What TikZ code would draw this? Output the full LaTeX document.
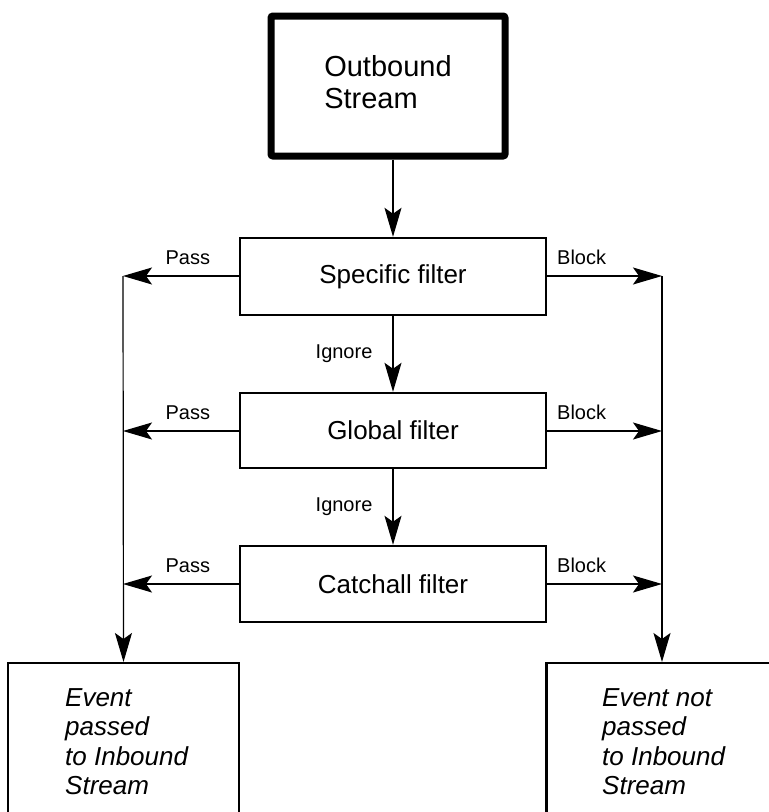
\documentclass[tikz,border=0pt]{standalone}
\usepackage{fontspec}
\setmainfont{Liberation Sans}
\usetikzlibrary{arrows.meta}
\begin{document}
\begin{tikzpicture}[x=1pt,y=-1pt,
  streambox/.style={draw, line width=7pt, rounded corners=2pt, minimum width=234pt,
    minimum height=140pt, inner sep=0pt, align=left, font=\fontsize{29}{32}\selectfont},
  filterbox/.style={draw, line width=2.4pt, minimum width=306pt, inner sep=0pt,
    font=\fontsize{26}{30}\selectfont},
  resultbox/.style={draw, line width=2.4pt, minimum width=231pt, minimum height=300pt,
    anchor=north, inner sep=0pt},
  resulttext/.style={anchor=north west, inner sep=0pt, align=left,
    font=\fontsize{26}{29.3}\selectfont\itshape},
  flow/.style={line width=1.2pt, -{Stealth[length=29pt,width=17pt,inset=6pt]}},
  tag/.style={font=\fontsize{20}{24}\selectfont, inner sep=0pt}
]
\useasboundingbox (0,0) rectangle (769,812);
\clip (0,0) rectangle (769,812);

% source stream
\node[streambox, text depth=9pt] (out) at (388,86) {Outbound\\Stream};

% filter chain
\node[filterbox, minimum height=77pt] (spec) at (393,276.5) {Specific filter};
\node[filterbox, minimum height=75pt] (glob) at (393,430.5) {Global filter};
\node[filterbox, minimum height=76pt] (catch) at (393,584) {Catchall filter};

% outcome boxes (open towards the bottom)
\node[resultbox] (passed) at (123.5,662) {};
\node[resultbox] (blocked) at (662,662) {};
\node[resulttext] (passedtxt) at (65,688.4) {Event\\passed\\to Inbound\\Stream};
\node[resulttext] (blockedtxt) at (602,688.4) {Event not\\passed\\to Inbound\\Stream};

% junction points on the collector lines
\coordinate (p1) at (123,276);
\coordinate (p2) at (123,431);
\coordinate (p3) at (123,584);
\coordinate (b1) at (662,276);
\coordinate (b2) at (662,431);
\coordinate (b3) at (662,584);

% main flow
\draw[flow] (out.south -| spec.north) -- (spec.north);
\draw[flow] (spec.south) -- node[tag, left=20pt] {Ignore} (glob.north);
\draw[flow] (glob.south) -- node[tag, left=20pt] {Ignore} (catch.north);

% pass branches and their collector
\draw[flow] (spec.west |- p1) -- node[tag, pos=0.44, above=11pt] {Pass} (p1);
\draw[flow] (glob.west |- p2) -- node[tag, pos=0.44, above=11pt] {Pass} (p2);
\draw[flow] (catch.west |- p3) -- node[tag, pos=0.44, above=11pt] {Pass} (p3);
\draw[flow] (p1) -- (passed.north);

% block branches and their collector
\draw[flow] (spec.east |- b1) -- node[tag, pos=0.3, above=11pt] {Block} (b1);
\draw[flow] (glob.east |- b2) -- node[tag, pos=0.3, above=11pt] {Block} (b2);
\draw[flow] (catch.east |- b3) -- node[tag, pos=0.3, above=11pt] {Block} (b3);
\draw[flow] (b1) -- (blocked.north);
\end{tikzpicture}
\end{document}
